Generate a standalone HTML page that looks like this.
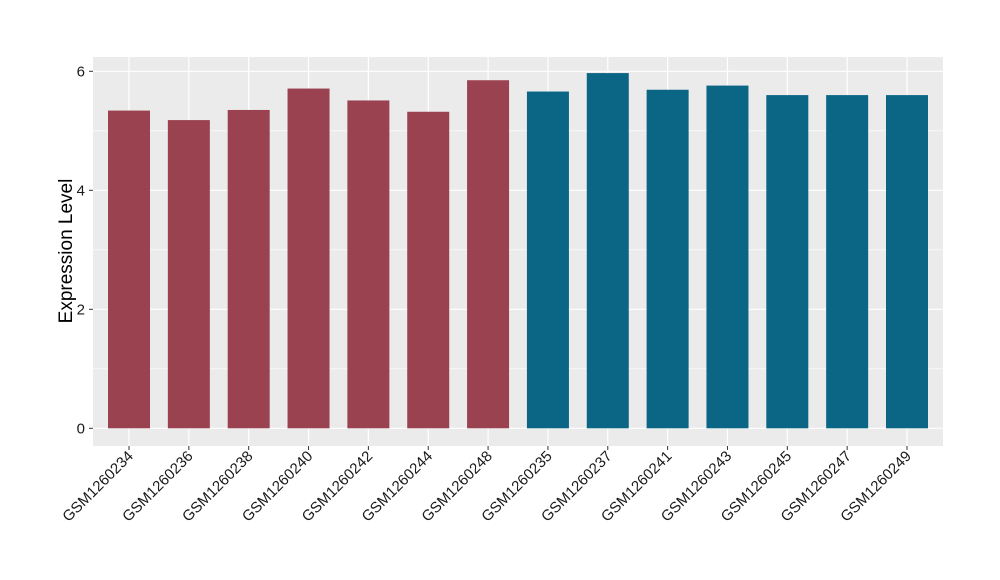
<!DOCTYPE html>
<html><head><meta charset="utf-8"><style>body{margin:0;background:#fff}svg{display:block}text{font-family:"Liberation Sans",Arial,sans-serif}</style></head>
<body>
<svg id="chart" width="1000" height="580" xmlns="http://www.w3.org/2000/svg">
<rect x="93" y="57" width="850" height="389" fill="#ebebeb"/>
<g id="grid"></g><g id="bars"></g><g id="axes"></g>
<text transform="translate(72,251) rotate(-90)" text-anchor="middle" font-size="19" fill="#000">Expression Level</text>
</svg>
<script>
const categories=["GSM1260234","GSM1260236","GSM1260238","GSM1260240","GSM1260242","GSM1260244","GSM1260248","GSM1260235","GSM1260237","GSM1260241","GSM1260243","GSM1260245","GSM1260247","GSM1260249"];
const values=[5.34,5.18,5.35,5.71,5.51,5.32,5.85,5.66,5.97,5.69,5.76,5.60,5.60,5.60];
const groups=[0,0,0,0,0,0,0,1,1,1,1,1,1,1];
const yTicks=[0,2,4,6];
const colors=["#9a4250","#0b6584"];
const NS="http://www.w3.org/2000/svg";
const y=v=>428.3-v*(428.3-71.3)/6;
const step=(907-129)/13;
const x=i=>129+i*step;
function mk(t,a,p){const e=document.createElementNS(NS,t);for(const k in a)e.setAttribute(k,a[k]);p.appendChild(e);return e;}
const grid=document.getElementById('grid'),bars=document.getElementById('bars'),axes=document.getElementById('axes');
for(let v=1;v<=5;v+=2){const l=mk('line',{x1:93,x2:943,y1:y(v),y2:y(v),stroke:'#fff','stroke-width':0.6},grid);

}
yTicks.forEach(v=>{const l=mk('line',{x1:93,x2:943,y1:y(v),y2:y(v),stroke:'#fff','stroke-width':1.2},grid);


const t=mk('text',{x:85,y:y(v)+5,'text-anchor':'end','font-size':15,fill:'#1a1a1a'},axes);t.textContent=v;


mk('line',{x1:89,x2:93,y1:y(v),y2:y(v),stroke:'#333'},axes);});
categories.forEach((c,i)=>{const g=mk('line',{x1:x(i),x2:x(i),y1:57,y2:446,stroke:'#fff','stroke-width':1.2},grid);


const r=mk('rect',{x:x(i)-21,y:y(values[i]),width:42,height:y(0)-y(values[i]),fill:colors[groups[i]]},bars);


mk('line',{x1:x(i),x2:x(i),y1:446,y2:450,stroke:'#333'},axes);
const t=mk('text',{transform:`translate(${x(i)+5},${457}) rotate(-45)`,'text-anchor':'end','font-size':15,fill:'#1a1a1a'},axes);t.textContent=c;

});
</script>
</body></html>
